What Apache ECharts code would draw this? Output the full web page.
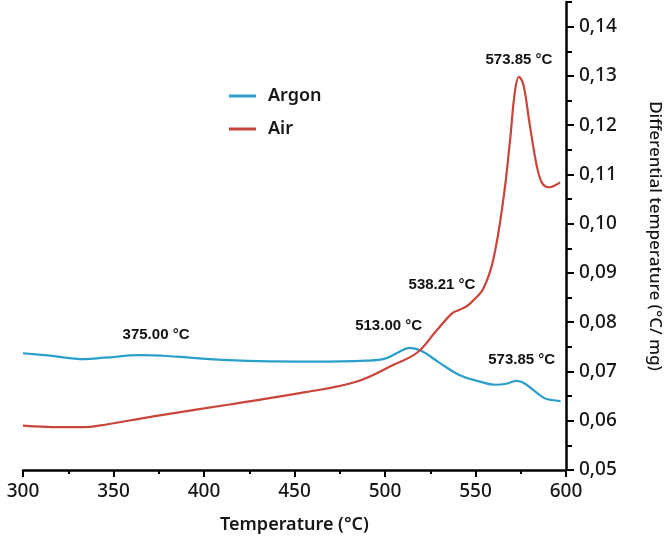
<!DOCTYPE html>
<html>
<head>
<meta charset="utf-8">
<script src="https://cdn.jsdelivr.net/npm/echarts@6/dist/echarts.min.js"></script>
<style>
html,body{margin:0;padding:0;background:#fff;}
#chart{width:666px;height:545px;}
</style>
</head>
<body>
<div id="chart"></div>
<script>
// ---- data ----
var argonTemp = [300, 315, 334, 345, 365, 385, 403, 430, 460, 490, 500, 507, 513.5, 520, 530, 541, 552, 561, 567, 572.7, 577, 587.5, 592, 597];
var argonDT   = [0.0737, 0.0732, 0.0725, 0.0728, 0.0733, 0.0730, 0.0725, 0.0721, 0.0720, 0.0722, 0.0726, 0.0738, 0.0748, 0.0742, 0.0718, 0.0693, 0.0680, 0.0673, 0.0675, 0.0681, 0.0676, 0.0647, 0.0642, 0.0640];

var airTemp = [300, 320, 334, 342, 372, 414, 456, 484, 505, 518, 528, 537, 541, 545, 549, 554.3, 559.8, 565.4, 569, 571.8, 574, 576.4, 580, 583.8, 586.5, 589, 591, 594, 596.7];
var airDT   = [0.0590, 0.0587, 0.0587, 0.0590, 0.0609, 0.0633, 0.0658, 0.0679, 0.0714, 0.0739, 0.0781, 0.0818, 0.0825, 0.0832, 0.0845, 0.0868, 0.0927, 0.1050, 0.1166, 0.1269, 0.1298, 0.1283, 0.1200, 0.1118, 0.1084, 0.1075, 0.1074, 0.1078, 0.1084];

var noteText = ['375.00 °C', '513.00 °C', '538.21 °C', '573.85 °C', '573.85 °C'];
var noteTemp = [373.5, 502, 531.5, 574, 575.5];
var noteDT   = [0.0774, 0.0792, 0.0876, 0.1332, 0.0723];

var xTicks = [300, 350, 400, 450, 500, 550, 600];
var yMajorTicks = [0.05, 0.06, 0.07, 0.08, 0.09, 0.10, 0.11, 0.12, 0.13, 0.14];
var yMinorTicks = [0.055, 0.065, 0.075, 0.085, 0.095, 0.105, 0.115, 0.125, 0.135, 0.145];

function zip(a, b) { return a.map(function (v, i) { return [v, b[i]]; }); }

var FONT = 'Noto Sans';
var TXT = '#161616';
var chart = echarts.init(document.getElementById('chart'));
chart.setOption({
  animation: false,
  backgroundColor: '#fff',
  grid: { left: 23, right: 100, top: 2, bottom: 75, containLabel: false, outerBoundsMode: 'none' },
  legend: {
    orient: 'vertical', left: 229, top: 85, itemGap: 11, padding: 0,
    icon: 'rect', itemWidth: 27, itemHeight: 3,
    data: ['Argon', 'Air'],
    textStyle: { fontFamily: FONT, fontSize: 18, fontWeight: 600, color: TXT, lineHeight: 22, padding: [0, 0, 0, 7] }
  },
  xAxis: {
    type: 'value', min: 300, max: 600, interval: 50,
    name: 'Temperature (°C)', nameLocation: 'middle', nameGap: 46,
    nameTextStyle: { fontFamily: FONT, fontSize: 18, fontWeight: 600, color: TXT },
    axisLine: { show: true, lineStyle: { color: '#000', width: 2.5 } },
    axisTick: { show: true, length: 7, lineStyle: { color: '#000', width: 2 } },
    minorTick: { show: true, splitNumber: 2, length: 4, lineStyle: { color: '#000', width: 2 } },
    axisLabel: { fontFamily: FONT, fontSize: 19, fontWeight: 500, color: TXT, margin: 12, customValues: xTicks },
    splitLine: { show: false }
  },
  yAxis: [{
    type: 'value', position: 'right', min: 0.05, max: 0.145,
    name: 'Differential temperature (°C/ mg)', nameLocation: 'middle', nameGap: 80, nameRotate: -90,
    nameTextStyle: { fontFamily: FONT, fontSize: 17, fontWeight: 500, color: TXT },
    axisLine: { show: true, lineStyle: { color: '#000', width: 2.5 } },
    axisTick: { show: true, length: 8, lineStyle: { color: '#000', width: 2 }, customValues: yMajorTicks },
    axisLabel: {
      fontFamily: FONT, fontSize: 19, fontWeight: 500, color: TXT, margin: 13,
      customValues: yMajorTicks,
      formatter: function (v) { return v.toFixed(2).replace('.', ','); }
    },
    splitLine: { show: false }
  }, {
    type: 'value', position: 'right', min: 0.05, max: 0.145,
    axisLine: { show: false },
    axisTick: { show: true, length: 6, lineStyle: { color: '#000', width: 2 }, customValues: yMinorTicks },
    axisLabel: { show: false },
    splitLine: { show: false }
  }],
  series: [{
    name: 'Argon', type: 'line', data: zip(argonTemp, argonDT),
    smooth: 0.4, showSymbol: false, symbol: 'none',
    lineStyle: { color: '#2a9fca', width: 2.2 }, itemStyle: { color: '#2a9fca' }
  }, {
    name: 'Air', type: 'line', data: zip(airTemp, airDT),
    smooth: 0.4, showSymbol: false, symbol: 'none',
    lineStyle: { color: '#c9443a', width: 2.2 }, itemStyle: { color: '#c9443a' }
  }, {
    name: 'notes', type: 'scatter', symbolSize: 0,
    itemStyle: { opacity: 1 },
    data: noteTemp.map(function (t, i) { return { name: noteText[i], value: [t, noteDT[i]] }; }),
    label: {
      show: true, position: 'inside', formatter: '{b}', opacity: 1,
      fontFamily: 'Liberation Sans', fontSize: 15, fontWeight: 'bold', color: '#111',
      textBorderWidth: 0, textBorderColor: 'transparent'
    },
    silent: true
  }]
});
</script>
</body>
</html>
